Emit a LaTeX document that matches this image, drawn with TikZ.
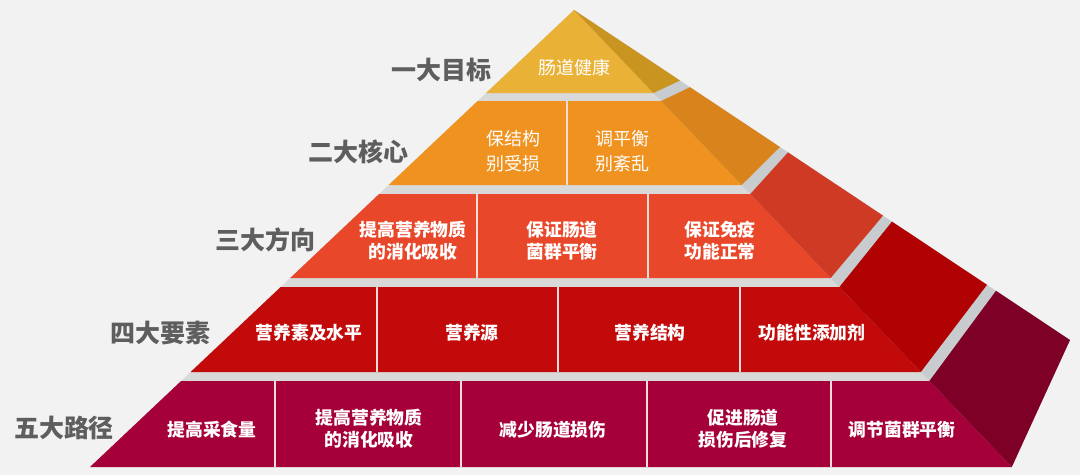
\documentclass[tikz,border=0pt]{standalone}
\usepackage{fontspec}
\newfontfamily\cjk{Noto Sans CJK SC}
\definecolor{bg}{HTML}{F2F2F2}
\definecolor{gapf}{HTML}{D9D9D9}
\definecolor{gaps}{HTML}{C8CCCE}
\definecolor{tAf}{HTML}{E9B236}
\definecolor{tAs}{HTML}{C99520}
\definecolor{tBf}{HTML}{F0921F}
\definecolor{tBs}{HTML}{D8831C}
\definecolor{tCf}{HTML}{E8472A}
\definecolor{tCs}{HTML}{CF3A24}
\definecolor{tDf}{HTML}{C20A0A}
\definecolor{tDs}{HTML}{B00202}
\definecolor{tEf}{HTML}{A5003A}
\definecolor{tEs}{HTML}{7E0026}
\definecolor{labgray}{HTML}{5E5E5E}
\definecolor{divc}{HTML}{F5DADA}
\tikzset{
  lab/.style={font=\cjk\bfseries\fontsize{25}{29}\selectfont, text=labgray, inner sep=0pt},
  cellb/.style={font=\cjk\bfseries\fontsize{17.8}{22}\selectfont, text=white, align=center, inner sep=0pt},
  cellr/.style={font=\cjk\fontsize{18}{25}\selectfont, text=white, align=center, inner sep=0pt},
  divline/.style={draw=divc, line width=2pt},
}
\begin{document}
\begin{tikzpicture}[x=1pt,y=-1pt]
\useasboundingbox[fill=bg] (0,0) rectangle (1080,475);
% gap backgrounds
\fill[gapf] (574,10) -- (90,467) -- (1011.8,467) -- cycle;
\fill[gaps] (574,10) -- (1011.8,467) -- (1070,340) -- cycle;
% tier 1
\fill[tAf] (574,10) -- (486.1,93) -- (653.5,93) -- cycle;
\fill[tAs] (574,10) -- (653.5,93) -- (680,80.5) -- cycle;
% tier 2
\fill[tBf] (477.6,101) -- (388.7,185) -- (741.7,185) -- (661.2,101) -- cycle;
\fill[tBs] (661.2,101) -- (741.7,185) -- (780,147) -- (690,87.2) -- cycle;
% tier 3
\fill[tCf] (379.1,194) -- (290.2,278) -- (830.7,278) -- (750.3,194) -- cycle;
\fill[tCs] (750.3,194) -- (830.7,278) -- (883,215.6) -- (788,152.4) -- cycle;
% tier 4
\fill[tDf] (280.7,287) -- (190.6,372) -- (920.8,372) -- (839.4,287) -- cycle;
\fill[tDs] (839.4,287) -- (920.8,372) -- (987,284.8) -- (892,221.6) -- cycle;
% tier 5
\fill[tEf] (181.1,381) -- (90,467) -- (1011.8,467) -- (929.4,381) -- cycle;
\fill[tEs] (929.4,381) -- (1011.8,467) -- (1070,340) -- (996,290.8) -- cycle;
% dividers
\draw[divline] (567,101) -- (567,185);
\draw[divline] (477,194) -- (477,278);
\draw[divline] (648,194) -- (648,278);
\draw[divline] (377,287) -- (377,372);
\draw[divline] (558,287) -- (558,372);
\draw[divline] (740,287) -- (740,372);
\draw[divline] (275,381) -- (275,467);
\draw[divline] (461,381) -- (461,467);
\draw[divline] (647,381) -- (647,467);
\draw[divline] (831,381) -- (831,467);
% left labels
\node[lab] (l1) at (441,70) {一大目标};
\node[lab] (l2) at (358,152) {二大核心};
\node[lab] (l3) at (265,240) {三大方向};
\node[lab] (l4) at (160,333) {四大要素};
\node[lab] (l5) at (64,428) {五大路径};
% cells
\node[cellr] (a1) at (574,68) {肠道健康};
\node[cellr] (b1) at (513,151) {保结构\\别受损};
\node[cellr] (b2) at (622,151) {调平衡\\别紊乱};
\node[cellb] (c1) at (413,241) {提高营养物质\\的消化吸收};
\node[cellb] (c2) at (562,241) {保证肠道\\菌群平衡};
\node[cellb] (c3) at (720,241) {保证免疫\\功能正常};
\node[cellb] (d1) at (309,333) {营养素及水平};
\node[cellb] (d2) at (472,333) {营养源};
\node[cellb] (d3) at (650,333) {营养结构};
\node[cellb] (d4) at (812,333) {功能性添加剂};
\node[cellb] (e1) at (212,430) {提高采食量};
\node[cellb] (e2) at (369,429) {提高营养物质\\的消化吸收};
\node[cellb] (e3) at (553,430) {减少肠道损伤};
\node[cellb] (e4) at (743,429) {促进肠道\\损伤后修复};
\node[cellb] (e5) at (902,430) {调节菌群平衡};
\end{tikzpicture}
\end{document}
